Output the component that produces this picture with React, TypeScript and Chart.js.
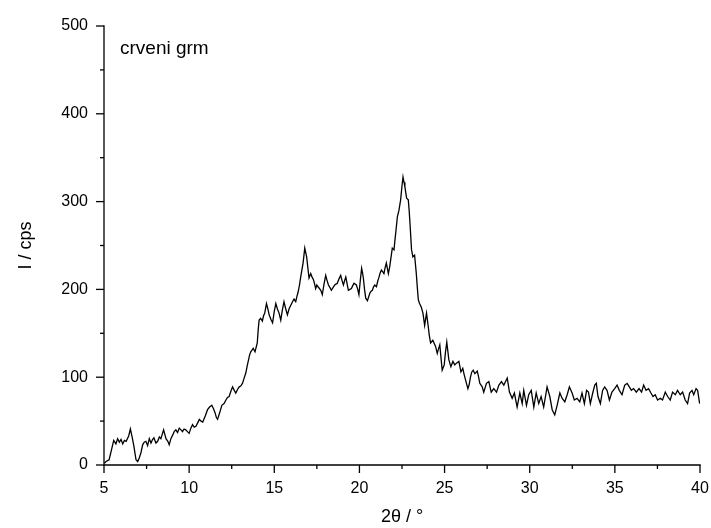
import React, { useEffect, useRef } from "react";
import { Chart, registerables } from "chart.js";

Chart.register(...registerables);

const twoTheta: number[] = [
  5.02, 5.12, 5.3, 5.45, 5.57, 5.7, 5.8, 5.9, 6.0, 6.1, 6.2, 6.3, 6.45, 6.55, 6.65, 6.75, 6.88, 6.98,
  7.07, 7.17, 7.27, 7.36, 7.46, 7.56, 7.66, 7.76, 7.85, 7.93, 8.05, 8.15, 8.25, 8.34, 8.5, 8.64, 8.75,
  8.83, 8.93, 9.03, 9.12, 9.22, 9.32, 9.42, 9.52, 9.61, 9.7, 9.8, 9.9, 10.0, 10.1, 10.2, 10.3, 10.4,
  10.5, 10.6, 10.7, 10.8, 10.95, 11.08, 11.2, 11.33, 11.43, 11.53, 11.6, 11.67, 11.8, 11.92, 12.05,
  12.16, 12.25, 12.35, 12.45, 12.55, 12.65, 12.74, 12.84, 12.94, 13.03, 13.13, 13.23, 13.33, 13.41,
  13.49, 13.56, 13.62, 13.7, 13.76, 13.87, 14.0, 14.06, 14.11, 14.2, 14.3, 14.37, 14.44, 14.54, 14.62,
  14.7, 14.8, 14.9, 15.0, 15.09, 15.18, 15.28, 15.38, 15.47, 15.57, 15.67, 15.77, 15.87, 15.97, 16.07,
  16.16, 16.26, 16.33, 16.4, 16.48, 16.55, 16.62, 16.69, 16.79, 16.9, 16.97, 17.04, 17.14, 17.22, 17.3,
  17.37, 17.43, 17.5, 17.57, 17.65, 17.73, 17.82, 17.92, 18.02, 18.1, 18.18, 18.27, 18.35, 18.45,
  18.55, 18.62, 18.7, 18.8, 18.9, 18.98, 19.06, 19.13, 19.2, 19.28, 19.35, 19.44, 19.53, 19.6, 19.68,
  19.75, 19.82, 19.9, 19.97, 20.05, 20.13, 20.18, 20.23, 20.3, 20.37, 20.47, 20.55, 20.62, 20.69,
  20.76, 20.83, 20.9, 21.0, 21.07, 21.15, 21.22, 21.29, 21.37, 21.44, 21.5, 21.58, 21.7, 21.78, 21.83,
  21.93, 22.03, 22.08, 22.13, 22.23, 22.32, 22.42, 22.5, 22.56, 22.62, 22.67, 22.77, 22.87, 22.92,
  22.97, 23.06, 23.14, 23.24, 23.34, 23.4, 23.46, 23.53, 23.63, 23.73, 23.83, 23.94, 24.04, 24.1,
  24.18, 24.31, 24.4, 24.47, 24.57, 24.64, 24.72, 24.79, 24.86, 24.98, 25.05, 25.13, 25.19, 25.25,
  25.37, 25.49, 25.6, 25.7, 25.84, 25.96, 26.07, 26.15, 26.23, 26.37, 26.45, 26.52, 26.6, 26.68,
  26.78, 26.92, 27.0, 27.07, 27.21, 27.3, 27.46, 27.6, 27.74, 27.89, 28.05, 28.19, 28.34, 28.48,
  28.58, 28.68, 28.81, 28.97, 29.1, 29.26, 29.42, 29.56, 29.65, 29.81, 29.94, 30.09, 30.24, 30.38,
  30.53, 30.67, 30.82, 31.02, 31.18, 31.32, 31.47, 31.61, 31.77, 31.9, 32.06, 32.2, 32.33, 32.49,
  32.62, 32.78, 32.94, 33.07, 33.21, 33.34, 33.45, 33.56, 33.7, 33.82, 33.91, 34.01, 34.15, 34.28,
  34.4, 34.54, 34.68, 34.83, 34.99, 35.13, 35.26, 35.42, 35.58, 35.72, 35.85, 35.97, 36.1, 36.26,
  36.42, 36.57, 36.69, 36.83, 36.98, 37.12, 37.24, 37.37, 37.51, 37.67, 37.8, 37.96, 38.1, 38.25,
  38.39, 38.55, 38.68, 38.84, 38.98, 39.13, 39.27, 39.39, 39.53, 39.63, 39.77, 39.86, 39.98,
];

const intensity: number[] = [
  2, 4, 6, 18, 28, 24, 30, 26, 29, 24, 28, 27, 33, 41, 32, 22, 6, 4,
  8, 14, 23, 26, 27, 22, 30, 25, 29, 31, 25, 27, 32, 30, 40, 30, 27,
  23, 30, 34, 38, 40, 37, 42, 40, 38, 41, 40, 38, 36, 42, 46, 43, 44,
  48, 52, 50, 49, 56, 63, 66, 68, 64, 59, 54, 52, 60, 68, 70,
  74, 77, 78, 84, 89, 85, 82, 86, 89, 90, 93, 99, 105, 113,
  120, 126, 129, 131, 133, 129, 139, 155, 165, 167, 164, 170, 173, 184, 178,
  171, 166, 162, 175, 184, 178, 173, 165, 176, 186, 178, 171, 178, 182, 186,
  189, 186, 192, 197, 205, 214, 222, 230, 247, 237, 225, 213, 218, 214, 211,
  206, 201, 205, 203, 201, 199, 194, 206, 216, 210, 205, 202, 199, 202,
  205, 206, 207, 212, 216, 210, 205, 210, 214, 206, 199, 200, 201, 204, 207,
  206, 205, 200, 194, 210, 224, 219, 213, 200, 190, 187, 192, 196, 198,
  199, 203, 205, 203, 209, 214, 219, 222, 220, 218, 224, 230, 218, 226, 233,
  247, 245, 255, 264, 283, 290, 302, 318, 328, 322, 317, 304, 302, 290,
  275, 245, 237, 239, 218, 202, 188, 184, 180, 173, 159, 173, 158, 148,
  139, 142, 138, 135, 127, 132, 137, 122, 108, 114, 128, 140, 130, 120,
  112, 118, 114, 116, 118, 106, 110, 103, 97, 87, 92, 100, 106, 108,
  104, 107, 100, 93, 89, 83, 93, 95, 83, 87, 83, 91, 95, 91,
  95, 99, 83, 76, 82, 66, 82, 70, 85, 68, 80, 85, 66, 82,
  70, 78, 66, 89, 78, 63, 57, 68, 82, 76, 72, 80, 89, 82,
  74, 76, 72, 82, 70, 85, 83, 70, 82, 91, 93, 78, 70, 85,
  89, 85, 74, 83, 87, 91, 85, 80, 91, 93, 89, 85, 87, 83,
  87, 83, 91, 85, 87, 82, 78, 80, 74, 76, 74, 83, 78, 74,
  83, 80, 85, 80, 83, 74, 70, 82, 85, 80, 87, 85, 70,
];

const xMajorTicks: number[] = [5, 10, 15, 20, 25, 30, 35, 40];
const xMinorTicks: number[] = [7.5, 12.5, 17.5, 22.5, 27.5, 32.5, 37.5];
const yMajorTicks: number[] = [0, 100, 200, 300, 400, 500];
const yMinorTicks: number[] = [50, 150, 250, 350, 450];

const sampleLabel = "crveni grm";
const xTitle = "2θ / °";
const yTitle = "I / cps";

const FONT = "'Liberation Sans', Arial, sans-serif";

const axesPlugin = {
  id: "originAxes",
  afterDraw(chart: any) {
    const { ctx, chartArea } = chart;
    const xs = chart.scales.x;
    const ys = chart.scales.y;
    ctx.save();
    ctx.strokeStyle = "#000";
    ctx.lineWidth = 1.3;
    ctx.lineCap = "square";
    ctx.beginPath();
    ctx.moveTo(chartArea.left, chartArea.top);
    ctx.lineTo(chartArea.left, chartArea.bottom);
    ctx.lineTo(chartArea.right, chartArea.bottom);
    ctx.stroke();
    ctx.lineCap = "butt";
    const drawX = (v: number, len: number) => {
      const px = xs.getPixelForValue(v);
      ctx.beginPath();
      ctx.moveTo(px, chartArea.bottom);
      ctx.lineTo(px, chartArea.bottom + len);
      ctx.stroke();
    };
    const drawY = (v: number, len: number) => {
      const py = ys.getPixelForValue(v);
      ctx.beginPath();
      ctx.moveTo(chartArea.left, py);
      ctx.lineTo(chartArea.left - len, py);
      ctx.stroke();
    };
    xMajorTicks.forEach((v) => drawX(v, 8));
    xMinorTicks.forEach((v) => drawX(v, 4));
    yMajorTicks.forEach((v) => drawY(v, 8));
    yMinorTicks.forEach((v) => drawY(v, 4));

    ctx.fillStyle = "#000";
    ctx.font = `19px ${FONT}`;
    ctx.textAlign = "left";
    ctx.textBaseline = "alphabetic";
    ctx.fillText(sampleLabel, chartArea.left + 16, chartArea.top + 28);
    ctx.restore();
  },
};

export default function App() {
  const canvasRef = useRef<HTMLCanvasElement | null>(null);

  useEffect(() => {
    const canvas = canvasRef.current;
    if (!canvas) return;
    const points = twoTheta.map((x, i) => ({ x, y: intensity[i] }));
    const chart = new Chart(canvas, {
      type: "line",
      data: {
        datasets: [
          {
            data: points,
            borderColor: "#000",
            borderWidth: 1.3,
            pointRadius: 0,
            tension: 0,
            fill: false,
          },
        ],
      },
      options: {
        animation: false,
        responsive: false,
        maintainAspectRatio: false,
        layout: { padding: { left: 0, right: 11, top: 26, bottom: 0 } },
        plugins: {
          legend: { display: false },
          tooltip: { enabled: false },
        },
        scales: {
          x: {
            type: "linear",
            min: 5,
            max: 40,
            grid: { display: false, drawTicks: false },
            border: { display: false },
            ticks: {
              stepSize: 5,
              padding: 14,
              color: "#000",
              font: { family: FONT, size: 16 },
              maxRotation: 0,
            },
            title: {
              display: true,
              text: xTitle,
              color: "#000",
              font: { family: FONT, size: 18 },
              padding: { top: 0, bottom: 0 },
            },
            afterFit: (scale: any) => {
              scale.height = 63;
              scale.paddingLeft = 0;
              scale.paddingRight = 0;
            },
          },
          y: {
            type: "linear",
            min: 0,
            max: 500,
            grid: { display: false, drawTicks: false },
            border: { display: false },
            ticks: {
              stepSize: 100,
              padding: 16,
              color: "#000",
              font: { family: FONT, size: 16 },
            },
            title: {
              display: true,
              text: yTitle,
              color: "#000",
              font: { family: FONT, size: 18 },
              padding: { top: 15, bottom: 0 },
            },
            afterFit: (scale: any) => {
              scale.width = 104;
              scale.paddingTop = 0;
              scale.paddingBottom = 0;
            },
          },
        },
      },
      plugins: [axesPlugin],
    });
    return () => chart.destroy();
  }, []);

  return (
    <div style={{ position: "fixed", left: 0, top: 0, width: 711, height: 528, background: "#fff" }}>
      <canvas ref={canvasRef} width={711} height={528} style={{ width: 711, height: 528, display: "block" }} />
    </div>
  );
}
